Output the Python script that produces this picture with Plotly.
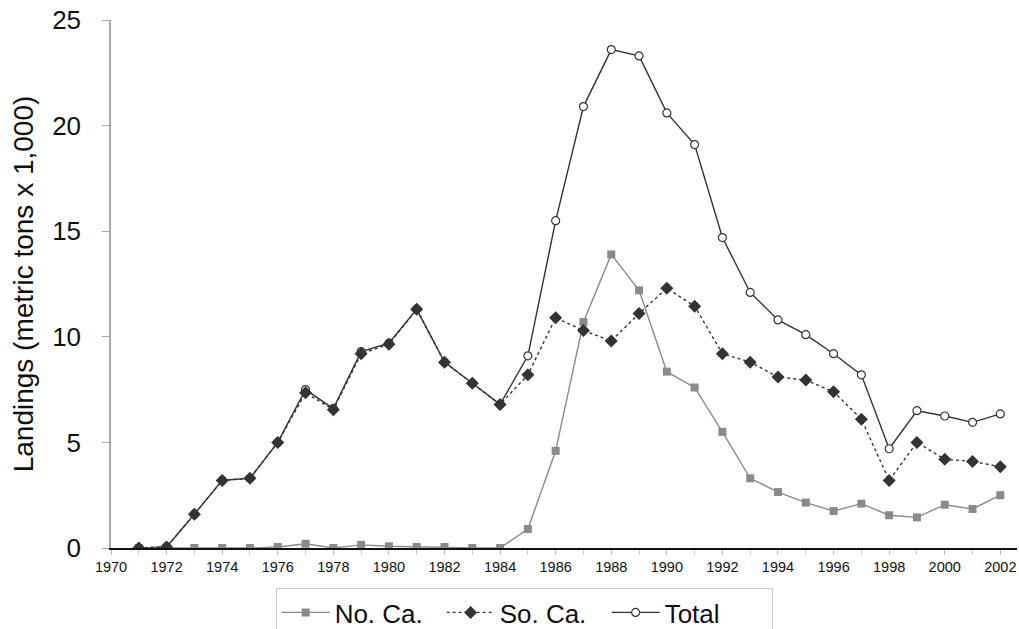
import plotly.graph_objects as go

years = list(range(1971, 2003))
no_ca = [0, 0, 0, 0, 0, 0.05, 0.2, 0, 0.15, 0.08, 0.05, 0.05, 0, 0,
         0.9, 4.6, 10.7, 13.9, 12.2, 8.35, 7.6, 5.5, 3.3, 2.65, 2.15, 1.75,
         2.1, 1.55, 1.45, 2.05, 1.85, 2.5]
so_ca = [0, 0.05, 1.6, 3.2, 3.3, 5.0, 7.35, 6.55, 9.2, 9.65, 11.3, 8.8, 7.8, 6.8,
         8.2, 10.9, 10.3, 9.8, 11.1, 12.3, 11.45, 9.2, 8.8, 8.1, 7.95, 7.4,
         6.1, 3.2, 5.0, 4.2, 4.1, 3.85]
total = [0, 0.05, 1.6, 3.2, 3.3, 5.0, 7.5, 6.6, 9.3, 9.7, 11.3, 8.8, 7.8, 6.8,
         9.1, 15.5, 20.9, 23.6, 23.3, 20.6, 19.1, 14.7, 12.1, 10.8, 10.1, 9.2,
         8.2, 4.7, 6.5, 6.25, 5.95, 6.35]
x_ticks = list(range(1970, 2003, 2))
y_ticks = [0, 5, 10, 15, 20, 25]

fig = go.Figure()
fig.add_trace(go.Scatter(
    x=years, y=total, name="Total", mode="lines+markers", legendrank=3,
    line=dict(color="#333333", width=1.4),
    marker=dict(symbol="circle", size=8, color="white",
                line=dict(color="#333333", width=1.2))))
fig.add_trace(go.Scatter(
    x=years, y=no_ca, name="No. Ca.", mode="lines+markers", legendrank=1,
    line=dict(color="#8a8a8a", width=1.4),
    marker=dict(symbol="square", size=8, color="#8a8a8a")))
fig.add_trace(go.Scatter(
    x=years, y=so_ca, name="So. Ca.", mode="lines+markers", legendrank=2,
    line=dict(color="#333333", width=1.4, dash="dot"),
    marker=dict(symbol="diamond", size=10, color="#333333")))

fig.update_layout(
    width=1019, height=629,
    margin=dict(l=111, r=2, t=20, b=81, autoexpand=False),
    plot_bgcolor="white", paper_bgcolor="white",
    font=dict(family="Liberation Sans, Arial, sans-serif", color="#111111"),
    showlegend=True,
    legend=dict(orientation="h", x=0.456, xanchor="center", y=-0.0758, yanchor="top",
                bordercolor="#c8c8c8", borderwidth=1,
                font=dict(size=26), itemwidth=48, entrywidth=102,
                tracegroupgap=0),
    xaxis=dict(range=[1970, 2002.6], tickmode="array", tickvals=x_ticks,
               ticktext=[str(v) for v in x_ticks], tickfont=dict(size=14.5),
               showline=True, linecolor="#111111", linewidth=1.5,
               ticks="outside", ticklen=5, tickcolor="#bbbbbb",
               minor=dict(dtick=1, ticks="outside", ticklen=5, tickcolor="#cccccc"),
               showgrid=False, zeroline=False),
    yaxis=dict(range=[0, 25], tickmode="array", tickvals=y_ticks,
               tickfont=dict(size=26), showline=True, linecolor="#aaaaaa", linewidth=1.5,
               ticks="outside", ticklen=7, tickcolor="#aaaaaa",
               ticklabelstandoff=16,
               showgrid=False, zeroline=False,
               title=dict(text="Landings (metric tons x 1,000)", font=dict(size=28),
                          standoff=10)),
)

fig.write_html(
    "out.html",
    config={"displayModeBar": False},
    post_script="document.body.style.margin='0px';"
                "document.documentElement.style.overflow='hidden';"
                "document.body.style.overflow='hidden';",
)
